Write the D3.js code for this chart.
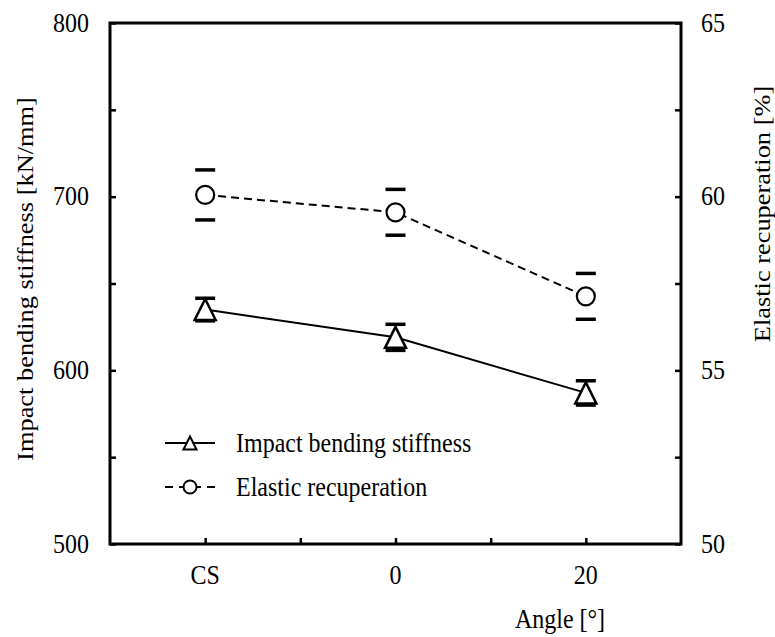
<!DOCTYPE html>
<html>
<head>
<meta charset="utf-8">
<script src="https://cdn.jsdelivr.net/npm/d3@7"></script>
<style>
	body { margin: 0; background: #fff; }
</style>
</head>
<body>
<div id="chart"></div>
<script>
// datos
var categories = ["CS", "0", "20"];
var stiffness = [635, 619, 587];
var stiffnessErr = [6.5, 7.5, 7];
var recuperation = [60.05, 59.55, 57.13];
var recuperationErr = [0.72, 0.66, 0.66];
var leftTicks = [500, 600, 700, 800];
var rightTicks = [50, 55, 60, 65];
var seriesNames = ["Impact bending stiffness", "Elastic recuperation"];

var W = 775, H = 637;
var M = {top: 23, right: 94, bottom: 93, left: 110};
var FS = 24;
var STRETCH = 1.1; // la figura original esta algo estirada en vertical
var FONT = "'Liberation Serif', 'DejaVu Serif', 'Times New Roman', serif";

var svg = d3.select("#chart").append("svg")
	.attr("width", W).attr("height", H)
	.attr("font-family", FONT);

var x = d3.scaleLinear().domain([0.5, 3.5]).range([M.left, W - M.right]);
var yL = d3.scaleLinear().domain([500, 800]).range([H - M.bottom, M.top]);
var yR = d3.scaleLinear().domain([50, 65]).range([H - M.bottom, M.top]);

// ticks (hacia adentro)
var left = svg.append("g").attr("transform", "translate(" + M.left + ",0)")
	.call(d3.axisRight(yL).tickValues(d3.range(500, 801, 50)).tickSize(6).tickFormat(""));
var right = svg.append("g").attr("transform", "translate(" + (W - M.right) + ",0)")
	.call(d3.axisLeft(yR).tickValues(d3.range(50, 65.1, 2.5)).tickSize(6).tickFormat(""));
var bottom = svg.append("g").attr("transform", "translate(0," + (H - M.bottom) + ")")
	.call(d3.axisTop(x).tickValues(d3.range(1, 3.1, 0.5)).tickSize(6).tickFormat(""));
[left, right, bottom].forEach(function(g) {
	g.select(".domain").remove();
	g.selectAll(".tick line").attr("stroke", "#000").attr("stroke-width", 2.5);
});

// marco
svg.append("rect")
	.attr("x", M.left).attr("y", M.top)
	.attr("width", W - M.right - M.left).attr("height", H - M.bottom - M.top)
	.attr("fill", "none").attr("stroke", "#000").attr("stroke-width", 3);

// texto con el estiramiento vertical
function txt(sel, px, py, rot) {
	return sel.attr("font-family", FONT).attr("font-size", FS).attr("fill", "#000")
		.attr("transform", function(d, i) {
			var a = typeof px === "function" ? px(d, i) : px;
			var b = typeof py === "function" ? py(d, i) : py;
			return rot ? "translate(" + a + "," + b + ") rotate(-90) scale(" + STRETCH + ",1)"
				: "translate(" + a + "," + b + ") scale(1," + STRETCH + ")";
		});
}

// etiquetas de ticks
txt(svg.selectAll(".lt").data(leftTicks).enter().append("text"),
	M.left - 21, function(d) { return yL(d); })
	.attr("class", "lt").attr("dy", "0.33em").attr("text-anchor", "end")
	.text(function(d) { return d; });
txt(svg.selectAll(".rt").data(rightTicks).enter().append("text"),
	W - M.right + 20, function(d) { return yR(d); })
	.attr("class", "rt").attr("dy", "0.33em").attr("text-anchor", "start")
	.text(function(d) { return d; });
txt(svg.selectAll(".xt").data(categories).enter().append("text"),
	function(d, i) { return x(i + 1); }, 584)
	.attr("class", "xt").attr("text-anchor", "middle")
	.text(function(d) { return d; });

// titulos
txt(svg.append("text"), 560, 628).attr("text-anchor", "middle").text("Angle [°]");
txt(svg.append("text"), 33, 279, true)
	.attr("text-anchor", "middle").text("Impact bending stiffness [kN/mm]");
txt(svg.append("text"), 770, 214, true)
	.attr("text-anchor", "middle").text("Elastic recuperation [%]");

// lineas
var idx = d3.range(categories.length);
svg.append("path").datum(idx)
	.attr("d", d3.line().x(function(i) { return x(i + 1); }).y(function(i) { return yL(stiffness[i]); }))
	.attr("fill", "none").attr("stroke", "#000").attr("stroke-width", 2);
svg.append("path").datum(idx)
	.attr("d", d3.line().x(function(i) { return x(i + 1); }).y(function(i) { return yR(recuperation[i]); }))
	.attr("fill", "none").attr("stroke", "#000").attr("stroke-width", 2).attr("stroke-dasharray", "8,5");

function triPath(w) {
	var h = w;
	return "M0," + (-h / 2) + "L" + (w / 2) + "," + (h / 2) + "L" + (-w / 2) + "," + (h / 2) + "Z";
}

// barras de error (solo los topes)
function caps(vals, errs, y, cls) {
	var data = [];
	vals.forEach(function(v, i) {
		data.push({i: i, v: v + errs[i]});
		data.push({i: i, v: v - errs[i]});
	});
	svg.selectAll("." + cls).data(data).enter().append("line")
		.attr("class", cls)
		.attr("x1", function(d) { return x(d.i + 1) - 10; })
		.attr("x2", function(d) { return x(d.i + 1) + 10; })
		.attr("y1", function(d) { return y(d.v); })
		.attr("y2", function(d) { return y(d.v); })
		.attr("stroke", "#000").attr("stroke-width", 3.5);
}

// marcadores
svg.selectAll(".tri").data(stiffness).enter().append("path")
	.attr("class", "tri")
	.attr("transform", function(d, i) { return "translate(" + x(i + 1) + "," + yL(d) + ")"; })
	.attr("d", triPath(21))
	.attr("fill", "#fff").attr("stroke", "#000").attr("stroke-width", 2.5);
svg.selectAll(".cir").data(recuperation).enter().append("circle")
	.attr("class", "cir")
	.attr("cx", function(d, i) { return x(i + 1); })
	.attr("cy", function(d) { return yR(d); })
	.attr("r", 9)
	.attr("fill", "#fff").attr("stroke", "#000").attr("stroke-width", 2.2);

caps(stiffness, stiffnessErr, yL, "capL");
caps(recuperation, recuperationErr, yR, "capR");

// leyenda
var leg = svg.append("g");
var rows = [{y: 443, dash: null}, {y: 487, dash: "8,6"}];
rows.forEach(function(r, k) {
	leg.append("line").attr("x1", 165).attr("x2", 215).attr("y1", r.y).attr("y2", r.y)
		.attr("stroke", "#000").attr("stroke-width", 2).attr("stroke-dasharray", r.dash);
	if (k === 0) {
		leg.append("path").attr("transform", "translate(190," + r.y + ")").attr("d", triPath(13))
			.attr("fill", "#fff").attr("stroke", "#000").attr("stroke-width", 2);
	} else {
		leg.append("circle").attr("cx", 190).attr("cy", r.y).attr("r", 6.5)
			.attr("fill", "#fff").attr("stroke", "#000").attr("stroke-width", 2);
	}
	txt(leg.append("text"), 236, r.y).attr("dy", "0.33em").text(seriesNames[k]);
});
</script>
</body>
</html>
